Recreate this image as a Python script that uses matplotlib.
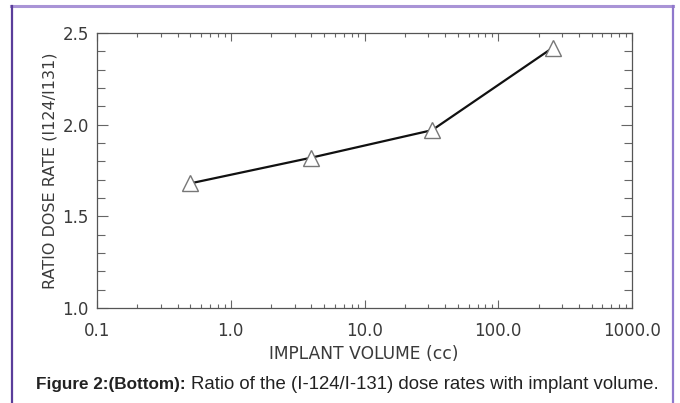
import matplotlib
matplotlib.use("Agg")
import matplotlib.pyplot as plt
from matplotlib.ticker import LogLocator, MultipleLocator, FixedLocator, FixedFormatter
from matplotlib.lines import Line2D

volume = [0.5, 4.0, 32.0, 256.0]
ratio = [1.68, 1.82, 1.97, 2.42]
xtick_vals = [0.1, 1.0, 10.0, 100.0, 1000.0]
xtick_labels = ["0.1", "1.0", "10.0", "100.0", "1000.0"]
ytick_vals = [1.0, 1.5, 2.0, 2.5]
ytick_labels = ["1.0", "1.5", "2.0", "2.5"]

W, H = 680, 403
fig = plt.figure(figsize=(W/100, H/100), dpi=100)
fig.patch.set_facecolor("white")

# purple frame
fig.add_artist(Line2D([11/W, 673/W], [1-6/H, 1-6/H], color="#a994d6", lw=2.2, transform=fig.transFigure))
fig.add_artist(Line2D([12/W, 12/W], [0, 1-6/H], color="#5a3d9a", lw=1.6, transform=fig.transFigure))
fig.add_artist(Line2D([673/W, 673/W], [0, 1-6/H], color="#8f78cc", lw=1.6, transform=fig.transFigure))

ax = fig.add_axes([97/W, 1-308/H, (632-97)/W, (308-33)/H])
ax.set_xscale("log")
ax.set_xlim(0.1, 1000)
ax.set_ylim(1.0, 2.5)

ax.plot(volume, ratio, color="#111111", lw=1.6, zorder=2)
ax.plot(volume, ratio, ls="none", marker="^", ms=11, mfc="white", mec="#777777", mew=1.0, zorder=3)

ax.xaxis.set_major_locator(FixedLocator(xtick_vals))
ax.xaxis.set_major_formatter(FixedFormatter(xtick_labels))
ax.xaxis.set_minor_locator(LogLocator(base=10, subs=range(2, 10)))
ax.yaxis.set_major_locator(FixedLocator(ytick_vals))
ax.yaxis.set_major_formatter(FixedFormatter(ytick_labels))
ax.yaxis.set_minor_locator(MultipleLocator(0.1))

ax.tick_params(which="both", direction="in", top=True, right=True, color="#666666", width=0.8)
ax.tick_params(which="major", length=6, labelsize=12, labelcolor="#3a3a3a")
ax.tick_params(axis="y", which="major", pad=6, length=8)
ax.tick_params(axis="x", which="major", pad=10)
ax.tick_params(which="minor", length=3)
ax.tick_params(axis="y", which="minor", length=5.5)
for s in ax.spines.values():
    s.set_color("#555555")
    s.set_linewidth(0.9)

ax.set_xlabel("IMPLANT VOLUME (cc)", fontsize=12.3, color="#3a3a3a", va="top")
ax.xaxis.set_label_coords((364-97)/535, (308-345)/275)
ax.set_ylabel("RATIO DOSE RATE (I124/I131)", fontsize=11.5, color="#3a3a3a", va="center")
ax.yaxis.set_label_coords((50-97)/535, (308-170.5)/275)

t1 = fig.text(36/W, 1-389/H, "Figure 2:(Bottom):", fontsize=12.3, fontweight="bold",
              family="Liberation Sans", color="#222222", va="baseline", ha="left")
fig.canvas.draw()
bb = t1.get_window_extent(renderer=fig.canvas.get_renderer())
x2 = (bb.x1 + 5) / W
fig.text(x2, 1-389/H, "Ratio of the (I-124/I-131) dose rates with implant volume.",
         fontsize=13.4, family="Liberation Sans", color="#222222", va="baseline", ha="left")

fig.savefig("out.png", dpi=100, facecolor="white")
